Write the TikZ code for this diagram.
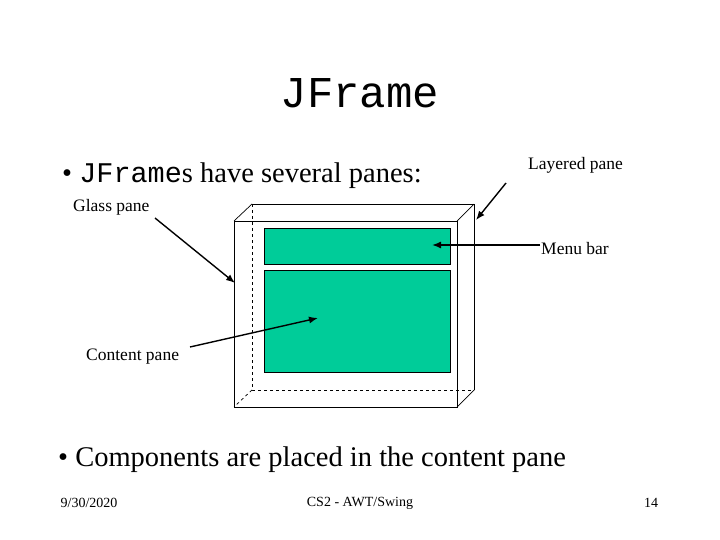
\documentclass[tikz,border=0pt]{standalone}
\usepackage{fontspec}
\usetikzlibrary{arrows.meta}
\setmainfont{Liberation Serif}
\setmonofont{Liberation Mono}
\definecolor{panegreen}{HTML}{00CC99}
\begin{document}
\begin{tikzpicture}[x=1pt,y=-1pt,
  lbl/.style={inner sep=0pt,font=\fontsize{17.5}{20}\selectfont},
  foot/.style={inner sep=0pt,font=\fontsize{14}{16}\selectfont},
  pane/.style={draw=black,fill=panegreen,line width=0.8pt},
  arr/.style={-{Latex[length=9pt,width=7pt]},line width=1.4pt},
  edge/.style={line width=0.7pt}]
\useasboundingbox (0,0) rectangle (720,540);
\node (title) at (360,93) {\fontsize{44}{48}\selectfont\ttfamily JFrame};
\node[anchor=west,inner sep=0pt] (b1) at (62,176) {\fontsize{28.5}{32}\selectfont • {\ttfamily JFrame}s have several panes:};
\node[anchor=west,inner sep=0pt] (b2) at (58,460) {\fontsize{28.5}{32}\selectfont • Components are placed in the content pane};
% back frame
\draw[edge] (252,204) -- (474,204) -- (474,390);
\draw[edge,dashed] (252,204) -- (252,390) -- (474,390);
\draw[edge] (474,390) -- (457,407);
\draw[edge] (252,204) -- (234,221);
\draw[edge] (474,204) -- (457,221);
\draw[edge,dashed] (252,390) -- (234,407);
\node[draw,edge,minimum width=223,minimum height=186,inner sep=0pt,anchor=north west] (front) at (234,221) {};
\node[pane,minimum width=186,minimum height=36,inner sep=0pt,anchor=north west] (menu) at (264,228) {};
\node[pane,minimum width=186,minimum height=102,inner sep=0pt,anchor=north west] (content) at (264,270) {};
\node[lbl,anchor=south west] (glass) at (73,215) {Glass pane};
\node[lbl,anchor=south west] (layered) at (528,173) {Layered pane};
\node[lbl,anchor=west] (menul) at (541,249) {Menu bar};
\node[lbl,anchor=west] (contl) at (86,357) {Content pane};
\coordinate (gs) at (155,218); \coordinate (ge) at (235,283);
\coordinate (ls) at (506,183); \coordinate (le) at (476,220);
\coordinate (ms) at (540,245); \coordinate (me) at (432,245);
\coordinate (cs) at (190,347); \coordinate (ce) at (318,318);
\draw[arr] (gs) -- (ge);
\draw[arr] (ls) -- (le);
\draw[arr] (ms) -- (me);
\draw[arr] (cs) -- (ce);
\node[foot] (d) at (89,503) {9/30/2020};
\node[foot] (c) at (360,503) {CS2 - AWT/Swing};
\node[foot] (p) at (651,503) {14};
\end{tikzpicture}
\end{document}
